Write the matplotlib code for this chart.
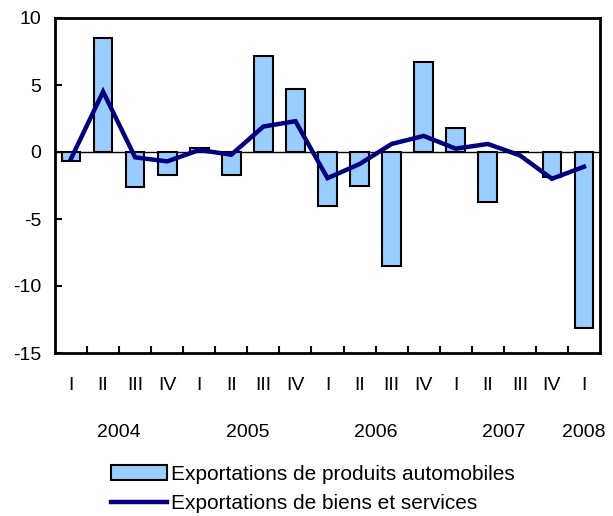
import numpy as np
import matplotlib
matplotlib.use('Agg')
import matplotlib.pyplot as plt

plt.rcParams['font.family'] = ['Liberation Sans', 'DejaVu Sans']

# trimestres 2004 I - 2008 I
quarters = ['I', 'II', 'III', 'IV', 'I', 'II', 'III', 'IV', 'I', 'II', 'III', 'IV',
            'I', 'II', 'III', 'IV', 'I']
years = ['2004', '2005', '2006', '2007', '2008']
year_pos = [1.5, 5.5, 9.5, 13.5, 16]

# variation en %
auto = [-0.7, 8.5, -2.6, -1.7, 0.3, -1.7, 7.2, 4.7, -4.0, -2.5, -8.5, 6.7,
        1.8, -3.7, 0.0, -1.9, -13.1]
total = [-0.5, 4.5, -0.4, -0.7, 0.15, -0.2, 1.9, 2.3, -1.95, -0.9, 0.6, 1.2,
         0.25, 0.6, -0.25, -2.0, -1.1]

x = np.arange(len(quarters))

fig = plt.figure(figsize=(6.13, 5.16), dpi=100)
ax = fig.add_axes([55/613, 1-353/516, 545/613, 335/516])

bars = ax.bar(x, auto, width=0.58, color='#99CCFF', edgecolor='black', linewidth=1.5,
              label='Exportations de produits automobiles', zorder=2)
ax.axhline(0, color='black', linewidth=1, zorder=1)
line, = ax.plot(x, total, color='#000080', linewidth=3.2, solid_joinstyle='miter',
                label='Exportations de biens et services', zorder=3)

ax.set_xlim(-0.5, 16.5)
ax.set_ylim(-15, 10)
ax.set_yticks([10, 5, 0, -5, -10, -15])
ax.set_yticklabels(['10', '5', '0', '-5', '-10', '-15'], fontsize=14)
ax.tick_params(axis='y', direction='in', length=5, width=1.5, pad=10)

ax.set_xticks(np.arange(0.5, 16.5, 1))
ax.set_xticklabels([])
ax.tick_params(axis='x', direction='in', length=5, width=1.5)

for i, q in enumerate(quarters):
    ax.text(i, -17.45, q, ha='center', va='center', fontsize=14)
for p, yr in zip(year_pos, years):
    ax.text(p, -20.95, yr, ha='center', va='center', fontsize=14)

for s in ax.spines.values():
    s.set_linewidth(2)

fig.legend(handles=[bars, line], loc='upper left', bbox_to_anchor=(111/613, 1-465/516),
           frameon=False, fontsize=15, handlelength=2.7, handletextpad=0.2,
           labelspacing=0.5, borderaxespad=0, borderpad=0)

fig.savefig('out.png', dpi=100)
